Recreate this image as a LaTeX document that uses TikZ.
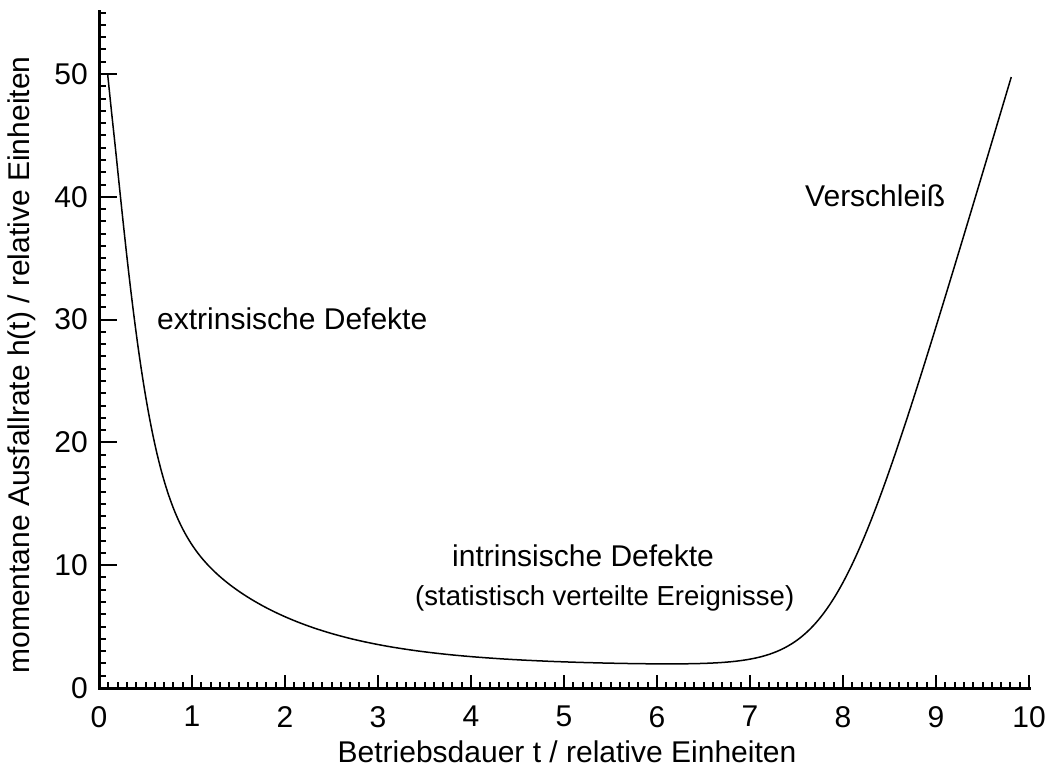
\documentclass[tikz,border=0pt]{standalone}
\usepackage{fontspec}
\setmainfont{Liberation Sans}
\begin{document}
\begin{tikzpicture}[x=1pt,y=1pt,
  declare function={hazard(\x)=1.8+21.2*exp(-\x/1.2)+31.9*exp(-3.9*(\x)^1.5)+8.415*ln(1+exp((\x-7.93)/0.33));},
  axisline/.style={line width=3pt,line cap=rect},
  tickline/.style={line width=2pt},
  curveline/.style={line width=1.5pt,line join=round},
  ticklab/.style={inner sep=0pt,font=\fontsize{30}{36}\selectfont},
  lab/.style={inner sep=0pt,font=\fontsize{30}{36}\selectfont},
  smalllab/.style={inner sep=0pt,font=\fontsize{27.5}{33}\selectfont}]
\useasboundingbox (0,0) rectangle (1048,769);
\begin{scope}[shift={(99,81)},x=93pt,y=12.28pt]
  % ticks
  \foreach \k in {1,...,100} \draw[tickline] (\k/10,0) -- ++(0,6pt);
  \foreach \k in {1,...,10} \draw[tickline] (\k,0) -- ++(0,13pt);
  \foreach \k in {1,...,55} \draw[tickline] (0,\k) -- ++(7pt,0);
  \foreach \k in {10,20,...,50} \draw[tickline] (0,\k) -- ++(18pt,0);
  % axes
  \coordinate (O) at (0,0);
  \coordinate (xend) at (10,0);
  \coordinate (yend) at (0,55.05);
  \draw[axisline] (xend) -- (O) -- (yend);
  % tick labels
  \foreach \k in {0,...,10} \node[ticklab,anchor=north] (xl\k) at ([yshift=-18pt]\k,0) {\k};
  \foreach \k in {0,10,...,50} \node[ticklab,anchor=east] (yl\k) at ([xshift=-11pt]0,\k) {\k};
  % curve
  \draw[curveline] plot[domain=0.094:9.81,samples=240,smooth] (\x,{hazard(\x)});
\end{scope}
% axis titles
\node[lab] (xtitle) at (567,17) {Betriebsdauer t / relative Einheiten};
\node[lab,rotate=90] (ytitle) at (22,404) {momentane Ausfallrate h(t) / relative Einheiten};
% annotations
\node[lab,anchor=west] (extr) at (157,450) {extrinsische Defekte};
\node[lab,anchor=west] (intr) at (452,213) {intrinsische Defekte};
\node[smalllab,anchor=west] (stat) at (415,171) {(statistisch verteilte Ereignisse)};
\node[lab,anchor=west] (versch) at (805,573) {Verschleiß};
\end{tikzpicture}
\end{document}
